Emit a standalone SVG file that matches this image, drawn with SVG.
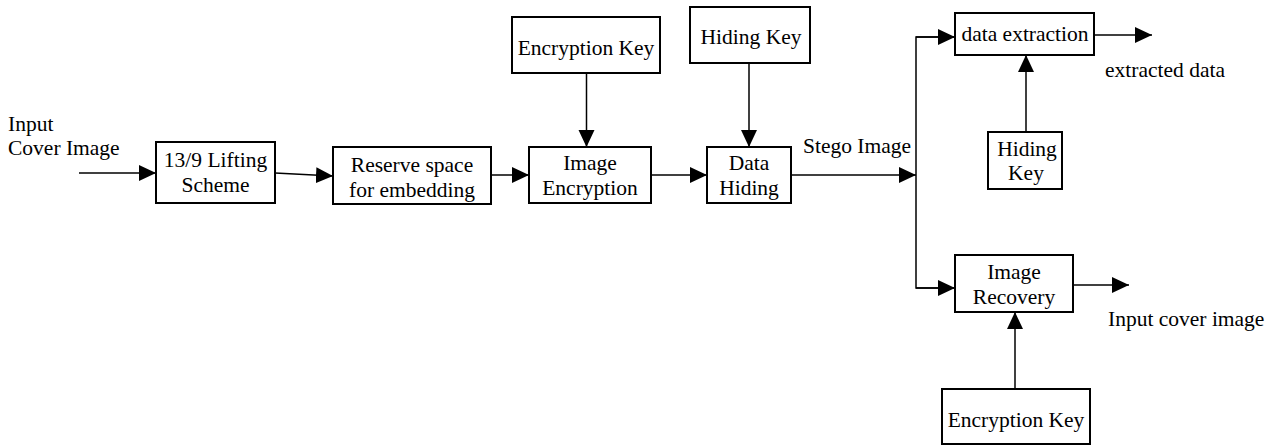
<svg xmlns="http://www.w3.org/2000/svg" width="1275" height="446" viewBox="0 0 1275 446">
<style>
.box{fill:#fff;stroke:#000;stroke-width:2}
.t{font-family:"Liberation Serif","Times New Roman",Times,serif;font-size:21.5px;fill:#000}
.c{text-anchor:middle}
.ln{fill:none;stroke:#000;stroke-width:1.5}
</style>
<defs>
<marker id="ah" markerUnits="userSpaceOnUse" markerWidth="18" markerHeight="18" refX="17" refY="8" orient="auto">
<path d="M0,0 L17,8 L0,16 z" fill="#000"/>
</marker>
</defs>
<rect width="1275" height="446" fill="#fff"/>
<g id="connectors">
<line class="ln" x1="79" y1="173" x2="156" y2="173" marker-end="url(#ah)"/>
<line class="ln" x1="275" y1="173" x2="333" y2="176" marker-end="url(#ah)"/>
<line class="ln" x1="491" y1="175" x2="529" y2="175" marker-end="url(#ah)"/>
<line class="ln" x1="586.5" y1="73" x2="586.5" y2="147" marker-end="url(#ah)"/>
<line class="ln" x1="651" y1="175" x2="707" y2="175" marker-end="url(#ah)"/>
<line class="ln" x1="749" y1="63" x2="749" y2="147" marker-end="url(#ah)"/>
<line class="ln" x1="791" y1="175" x2="916" y2="175" marker-end="url(#ah)"/>
<polyline class="ln" points="955,37 916,37 916,288 955,288"/>
<line class="ln" x1="916" y1="37" x2="955" y2="37" marker-end="url(#ah)"/>
<line class="ln" x1="916" y1="288" x2="955" y2="288" marker-end="url(#ah)"/>
<line class="ln" x1="1094" y1="35" x2="1152" y2="35" marker-end="url(#ah)"/>
<line class="ln" x1="1026" y1="132" x2="1026" y2="55" marker-end="url(#ah)"/>
<line class="ln" x1="1073" y1="285" x2="1129" y2="285" marker-end="url(#ah)"/>
<line class="ln" x1="1015" y1="389" x2="1015" y2="312" marker-end="url(#ah)"/>
</g>
<g id="labels">
<text class="t" x="8" y="131">Input</text>
<text class="t" x="8" y="155">Cover Image</text>
<text class="t" x="803" y="153">Stego Image</text>
<text class="t" x="1105" y="77">extracted data</text>
<text class="t" x="1108" y="326">Input cover image</text>
</g>
<g id="lifting">
<rect class="box" x="156" y="142" width="119" height="61"/>
<text class="t c" x="215.5" y="167">13/9 Lifting</text>
<text class="t c" x="215.5" y="192">Scheme</text>
</g>
<g id="reserve">
<rect class="box" x="333" y="147" width="158" height="57"/>
<text class="t c" x="412" y="172">Reserve space</text>
<text class="t c" x="412" y="197">for embedding</text>
</g>
<g id="encKey1">
<rect class="box" x="512" y="17" width="148" height="56"/>
<text class="t c" x="586" y="55">Encryption Key</text>
</g>
<g id="imgEnc">
<rect class="box" x="529" y="147" width="122" height="56"/>
<text class="t c" x="590" y="169.5">Image</text>
<text class="t c" x="590" y="195">Encryption</text>
</g>
<g id="hidKey1">
<rect class="box" x="690" y="7" width="120" height="56"/>
<text class="t c" x="751" y="43.5">Hiding Key</text>
</g>
<g id="dataHiding">
<rect class="box" x="707" y="147" width="84" height="56"/>
<text class="t c" x="749" y="169.5">Data</text>
<text class="t c" x="749" y="194.5">Hiding</text>
</g>
<g id="dataExtraction">
<rect class="box" x="955" y="13" width="139" height="42"/>
<text class="t c" x="1025" y="41">data extraction</text>
</g>
<g id="hidKey2">
<rect class="box" x="988" y="132" width="74" height="57"/>
<text class="t c" x="1027" y="156">Hiding</text>
<text class="t c" x="1026" y="180">Key</text>
</g>
<g id="imgRecovery">
<rect class="box" x="955" y="255" width="118" height="57"/>
<text class="t c" x="1014" y="278.5">Image</text>
<text class="t c" x="1014" y="304">Recovery</text>
</g>
<g id="encKey2">
<rect class="box" x="942" y="389" width="148" height="55"/>
<text class="t c" x="1016" y="427">Encryption Key</text>
</g>
</svg>
